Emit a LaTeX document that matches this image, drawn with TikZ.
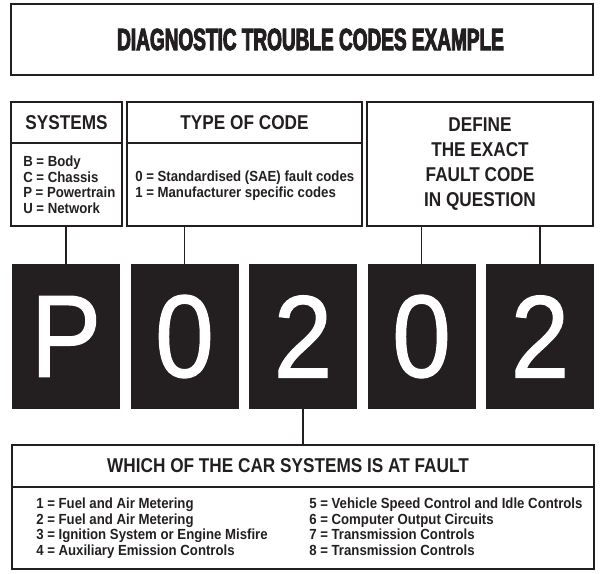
\documentclass[tikz,border=0pt]{standalone}
\usepackage{fontspec}
\setmainfont{Liberation Sans}[FakeStretch=0.9]
\newfontfamily\titlefont{Liberation Sans}[FakeStretch=0.62,FakeBold=3]
\newfontfamily\headfont{Liberation Sans}[FakeStretch=0.86]
\newfontfamily\digitfont{Liberation Sans}[FakeStretch=0.9,FakeBold=1]
\usetikzlibrary{positioning}
\definecolor{ink}{HTML}{231F20}

\begin{document}
\begin{tikzpicture}[x=0.75pt,y=-0.75pt]
				\tikzstyle{every node}=[text=ink]
				\tikzstyle{box}=[draw=ink,line width=1.1pt,inner sep=0pt]
				\tikzstyle{head}=[font=\headfont\bfseries\fontsize{15}{18.75}\selectfont,inner sep=0pt]
				\tikzstyle{list}=[font=\fontsize{11}{11.75}\selectfont\bfseries,align=left,inner sep=0pt,anchor=north west]
				\tikzstyle{digit}=[fill=ink,text=white,inner sep=0pt,minimum width=81pt,minimum height=108.75pt,font=\digitfont\fontsize{88}{88}\selectfont]
				\tikzstyle{wire}=[draw=ink,line width=0.8pt]
				
				\useasboundingbox (0,0) rectangle (610,574);
				
				\node[box,minimum width=436.5pt,minimum height=53.25pt] (title) at (302,39.5) {};
				\node[font=\titlefont\bfseries\fontsize{23}{23}\selectfont,inner sep=0pt] (titletext) at (310.5,39.5) {DIAGNOSTIC TROUBLE CODES EXAMPLE};
				
				\node[box,minimum width=83.25pt,minimum height=93pt] (sys) at (66.5,164) {};
				\node[box,head,minimum width=83.25pt,minimum height=30.75pt,anchor=north] (syshead) at (sys.north) {SYSTEMS};
				\node[list] (syslist) at (23,155.5) {B = Body\\C = Chassis\\P = Powertrain\\U = Network};
				
				\node[box,minimum width=176.25pt,minimum height=93pt] (type) at (244.5,164) {};
				\node[box,head,minimum width=176.25pt,minimum height=30.75pt,anchor=north] (typehead) at (type.north) {TYPE OF CODE};
				\node[list] (typelist) at (135,170.5) {0 = Standardised (SAE) fault codes\\1 = Manufacturer specific codes};
				
				\node[box,head,align=center,minimum width=169.5pt,minimum height=93pt] (define) at (480,164) {DEFINE\\THE EXACT\\FAULT CODE\\IN QUESTION};
				
				\node[digit] (d1) at (66,336.5) {P};
				\node[digit] (d2) at (184.5,336.5) {0};
				\node[digit] (d3) at (303,336.5) {2};
				\node[digit] (d4) at (421.5,336.5) {0};
				\node[digit] (d5) at (540,336.5) {2};
				
				\node[box,minimum width=436.5pt,minimum height=93pt] (fault) at (303,507) {};
				\node[box,minimum width=436.5pt,minimum height=31.5pt,anchor=north] (faulthead) at (fault.north) {};
				\node[head] (faulttext) at (288,466) {WHICH OF THE CAR SYSTEMS IS AT FAULT};
				\node[list] (faultleft) at (36,497.5) {1 = Fuel and Air Metering\\2 = Fuel and Air Metering\\3 = Ignition System or Engine Misfire\\4 = Auxiliary Emission Controls};
				\node[list] (faultright) at (309,497.5) {5 = Vehicle Speed Control and Idle Controls\\6 = Computer Output Circuits\\7 = Transmission Controls\\8 = Transmission Controls};
				
				\draw[wire] (d1.north) -- (d1.north |- sys.south);
				\draw[wire] (d2.north) -- (d2.north |- type.south);
				\draw[wire] (d4.north) -- (d4.north |- define.south);
				\draw[wire] (d5.north) -- (d5.north |- define.south);
				\draw[wire] (d3.south) -- (d3.south |- fault.north);
\end{tikzpicture}
\end{document}
